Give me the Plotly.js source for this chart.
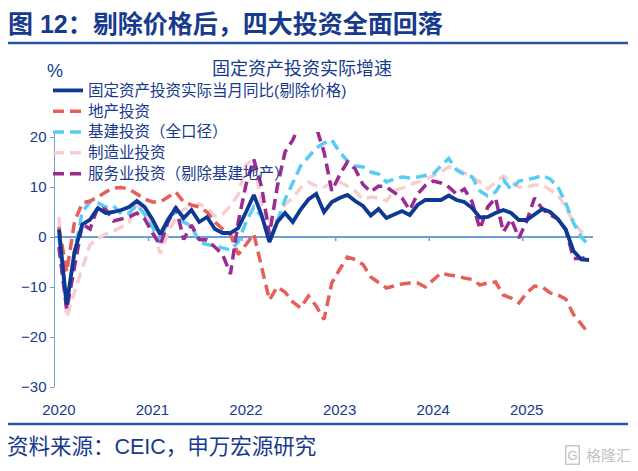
<!DOCTYPE html>
<html><head><meta charset="utf-8">
<script src="https://cdn.plot.ly/plotly-3.0.1.min.js"></script>
<style>html,body{margin:0;padding:0;background:#fff}#chart{width:638px;height:471px}</style>
</head><body><div id="chart"></div>
<script>
const months = [
 '2020-01','2020-02','2020-03','2020-04','2020-05','2020-06','2020-07','2020-08','2020-09','2020-10','2020-11','2020-12',
 '2021-01','2021-02','2021-03','2021-04','2021-05','2021-06','2021-07','2021-08','2021-09','2021-10','2021-11','2021-12',
 '2022-01','2022-02','2022-03','2022-04','2022-05','2022-06','2022-07','2022-08','2022-09','2022-10','2022-11','2022-12',
 '2023-01','2023-02','2023-03','2023-04','2023-05','2023-06','2023-07','2023-08','2023-09','2023-10','2023-11','2023-12',
 '2024-01','2024-02','2024-03','2024-04','2024-05','2024-06','2024-07','2024-08','2024-09','2024-10','2024-11','2024-12',
 '2025-01','2025-02','2025-03','2025-04','2025-05','2025-06','2025-07','2025-08','2025-09'];
const yearLabels = ['2020','2021','2022','2023','2024','2025'];
const yearStarts = ['2020-01','2021-01','2022-01','2023-01','2024-01','2025-01'];

const seriesNames = ['固定资产投资实际当月同比(剔除价格)','地产投资','基建投资（全口径）','制造业投资','服务业投资（剔除基建地产）'];

const fai = [1.5,-13.5,-3,2.5,3.5,5.8,4.8,5,5.4,6,7.2,6,
 3.5,0.5,3.5,5.8,3.8,5.4,3,4,1.6,0.8,0.8,1.8,
 5,8.4,4.4,-1,3,4.8,3,5.5,7.5,8.6,5,7,
 7.8,8.4,7.2,6.2,4.3,5.6,3.8,4.4,5.2,4.4,6.4,7.4,
 7.4,7.4,8.3,7.4,7,5.8,3.9,4,4.8,5.4,4.8,3.4,
 3.4,4.4,5.6,5,3.6,1.5,-2.8,-4.5,-4.6];
const realEstate = [2,-7,3,6.8,7.2,8,9,9.8,9.9,9.6,8.6,7.6,
 7,7,8,9,7,6.4,6,5,3,1.6,0.5,-3.5,
 -1.5,0.6,-6,-12.6,-10,-11,-13,-14.2,-11.8,-13.8,-16.5,-9.2,
 -6.5,-4,-4.5,-5.5,-8,-9.2,-10.2,-9.8,-9.4,-9.2,-9.2,-10,
 -8.5,-7.2,-7.6,-7.8,-8.2,-8.5,-9.6,-9.2,-9,-11.6,-12.2,-13.2,
 -11.2,-9.8,-10,-11.2,-11.6,-12.4,-15.5,-17.4,-19.4];
const infra = [0,-14,-3,5,7,6.8,6,6.2,4.6,4.8,6.4,4.5,
 2,-1.2,3.8,5,3,2.2,-1,-1.5,-1.8,-2.2,-2.6,-1,
 3,6,4,-0.6,3,7.5,10.8,14.2,16,17.8,18.8,19.4,
 17,15.2,14.2,14,13,12.6,11,11.6,12,11.8,12,12.3,
 12.6,14.2,15.7,13.4,12.5,12,9.2,8.2,9,11.4,9.5,11.2,
 11.5,11.8,12.3,11.6,10,6.8,2.8,0,-1.8];
const manuf = [4,-16,-11,-6,-1.5,-0.3,0.6,1.2,2,3,6.5,5,
 1.5,-3.3,0.8,4,5.5,6,6.6,5.8,4.2,4.5,6.2,8.5,
 14.5,15.5,6.5,3,3.5,6.5,7.8,9.8,11,10.2,10,10.8,
 11,10.2,9.2,7.5,8,7.8,7.2,9.2,9.8,10.5,11,11.5,
 12.2,13,14,13.6,12.8,12,11,9.6,11,12.2,11,10,
 10,10.4,10.4,9.4,8.4,6,3,1,0.2];
const services = [-2,-14.5,-6,2.6,1.6,6,5.5,3.2,3.6,4,4.8,3.6,
 0.8,-1.6,3,6,-0.5,2.4,-0.5,-0.6,-2,-3.5,-7.4,3,
 10.5,15.5,10,0.5,10,17,19.4,23,24,22,17,9.2,
 12.4,15,13.6,10.5,9,10.2,10,8.8,7.8,5.4,8.6,10.3,
 11.2,10.8,10,8.6,9.6,7,1.6,6,7.8,1,3.6,-0.2,
 3.2,7.8,5.6,4.4,3.6,1.5,-4.3,-4.3,-3.9];

const xIdx = months.map((m, i) => i);
const tickIdx = yearStarts.map(m => months.indexOf(m));
const boundaryIdx = tickIdx.slice(1).map(i => i - 0.5);

const FONT = 'Liberation Sans, Arial, Noto Sans CJK SC, sans-serif';
const NAVY = '#173a8c';
const AXIS = '#6a9fd8';
const DASH = '11px,6px';

function tr(y, name, color, dash, width, rank) {
  return {x: xIdx, y: y, name: '<span style="font-size:15.5px">' + name + '</span>', type: 'scatter', mode: 'lines',
    line: {color: color, width: width, dash: dash}, legendrank: rank, hoverinfo: 'skip'};
}
const data = [
  tr(manuf, seriesNames[3], '#f8cfd0', DASH, 3.5, 4),
  tr(infra, seriesNames[2], '#58cdf2', DASH, 3.5, 3),
  tr(realEstate, seriesNames[1], '#e6605a', DASH, 3.5, 2),
  tr(services, seriesNames[4], '#9b2a92', DASH, 3.5, 5),
  tr(fai, seriesNames[0], '#0d3893', 'solid', 3.8, 1)
];

const L = 55, R = 593, T = 132, B = 387;
const px = v => (v - L) / (R - L);
const py = v => (B - v) / (B - T);

const shapes = boundaryIdx.map(b => ({type: 'line', xref: 'x', yref: 'y', x0: b, x1: b, y0: 0, y1: -0.8,
  line: {color: AXIS, width: 1.5}}));
shapes.push({type: 'line', xref: 'paper', yref: 'paper', x0: px(8), x1: px(628), y0: py(43), y1: py(43), line: {color: '#2b55a8', width: 2.5}});
shapes.push({type: 'line', xref: 'paper', yref: 'paper', x0: px(8), x1: px(628), y0: py(424), y1: py(424), line: {color: '#2b55a8', width: 2.5}});

const annotations = [
  {text: '<b>图 12：剔除价格后，四大投资全面回落</b>', xref: 'paper', yref: 'paper', x: px(6), y: py(24), xanchor: 'left', yanchor: 'middle', showarrow: false,
    font: {family: FONT, size: 25, color: NAVY}},
  {text: '固定资产投资实际增速', xref: 'paper', yref: 'paper', x: px(302), y: py(69), xanchor: 'center', yanchor: 'middle', showarrow: false,
    font: {family: FONT, size: 18, color: NAVY}},
  {text: '%', xref: 'paper', yref: 'paper', x: px(55), y: py(71), xanchor: 'center', yanchor: 'middle', showarrow: false,
    font: {family: FONT, size: 18, color: NAVY}},
  {text: '资料来源：CEIC，申万宏源研究', xref: 'paper', yref: 'paper', x: px(5), y: py(447), xanchor: 'left', yanchor: 'middle', showarrow: false,
    font: {family: FONT, size: 21.5, color: NAVY}},
  {text: 'G', xref: 'paper', yref: 'paper', x: px(572), y: py(455), xanchor: 'center', yanchor: 'middle', showarrow: false,
    font: {family: FONT, size: 13, color: '#bdbdbd'}, bordercolor: '#c8c8c8', borderwidth: 1.5, borderpad: 1},
  {text: '格隆汇', xref: 'paper', yref: 'paper', x: px(608), y: py(455), xanchor: 'center', yanchor: 'middle', showarrow: false,
    font: {family: FONT, size: 15, color: '#c4c4c4'}}
];

const layout = {
  width: 638, height: 471,
  margin: {l: L, r: 638 - R, t: T, b: 471 - B, pad: 0},
  paper_bgcolor: '#fff', plot_bgcolor: '#fff',
  showlegend: true,
  legend: {x: px(48), y: py(75), xanchor: 'left', yanchor: 'top', bgcolor: 'rgba(0,0,0,0)',
    font: {family: FONT, size: 13.7, color: NAVY}, traceorder: 'normal', itemwidth: 30},
  xaxis: {range: [-0.5, months.length - 0.5], tickmode: 'array', tickvals: tickIdx, ticktext: yearLabels,
    showgrid: false, zeroline: false, showline: false, ticks: 'outside', ticklen: 9, tickcolor: 'rgba(0,0,0,0)',
    tickfont: {family: FONT, size: 15, color: NAVY}, fixedrange: true},
  yaxis: {range: [-30, 21], tickmode: 'array', tickvals: [-30, -20, -10, 0, 10, 20],
    showgrid: false, zeroline: true, zerolinecolor: AXIS, zerolinewidth: 1.5,
    showline: true, linecolor: AXIS, linewidth: 1.5, ticks: 'outside', ticklen: 4, tickcolor: AXIS,
    tickfont: {family: FONT, size: 15, color: NAVY}, fixedrange: true},
  shapes: shapes,
  annotations: annotations
};

Plotly.newPlot('chart', data, layout, {displayModeBar: false, staticPlot: true});
</script></body></html>
